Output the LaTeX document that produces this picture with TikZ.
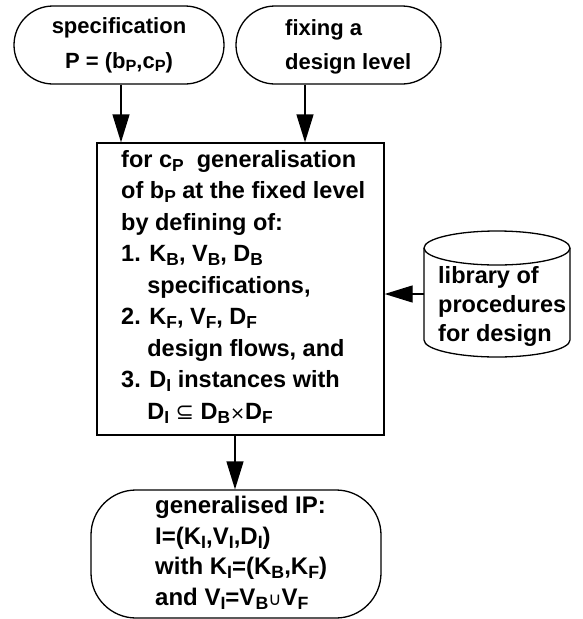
\documentclass[tikz,border=0pt]{standalone}
\usepackage{fontspec}
\usepackage{graphicx}
\setmainfont{Liberation Sans}
\newfontfamily\symfont{DejaVu Sans}
\usetikzlibrary{arrows.meta}
% lowered index letters and thin operator glyphs
\newcommand\dn[1]{\raisebox{-0.32ex}{\scalebox{0.74}{#1}}}
\newcommand\symb[2][18]{{\symfont\mdseries\fontsize{#1}{#1}\selectfont #2}}
\begin{document}
\begin{tikzpicture}[x=1pt,y=-1pt,
  line/.style={line width=1.3pt},
  arr/.style={line width=1.3pt, -{Triangle[length=28pt,width=17pt]}},
  pill/.style={draw, line width=1.3pt, rounded corners=39pt, minimum width=210pt,
    minimum height=78pt, inner sep=0pt, align=center,
    font=\bfseries\fontsize{22}{35}\selectfont},
  txt/.style={inner sep=0pt, align=left, anchor=north west,
    font=\bfseries\fontsize{23.5}{31.5}\selectfont}]
\useasboundingbox (0,0) rectangle (583,619);

% inputs
\node[pill] (spec) at (119,45) {specification\\P = (b\dn{P},c\dn{P})};
\node[pill, minimum width=205pt] (fix) at (338.5,45) {};
\node[txt, font=\bfseries\fontsize{22}{34}\selectfont] (fixtxt) at (285,19)
  {fixing a\\design level};

% generalisation step
\node[draw, line width=1.3pt, minimum width=287pt, minimum height=292pt,
  inner sep=0pt] (gen) at (240.5,289) {};
\node[txt] (gentxt) at (121,150) {%
  for c\dn{P}\ \ generalisation\\
  of b\dn{P} at the fixed level\\
  by defining of:\\
  1. K\dn{B}, V\dn{B}, D\dn{B}\\
  \hphantom{1.\ }specifications,\\
  2. K\dn{F}, V\dn{F}, D\dn{F}\\
  \hphantom{2.\ }design flows, and\\
  3. D\dn{I} instances with\\
  \hphantom{3.\ }D\dn{I} \symb[22]{⊆} D\dn{B}\symb[18]{×}D\dn{F}};

% procedure library (cylinder)
\node[minimum width=146pt, minimum height=126pt, inner sep=0pt] (lib) at (497,294) {};
\draw[line] (497,248) ellipse [x radius=73, y radius=17];
\draw[line] (424,248) -- (424,340) arc[start angle=180, end angle=0,
  x radius=73, y radius=17] -- (570,248);
\node[txt, font=\bfseries\fontsize{23.5}{29}\selectfont] (libtxt) at (438,266)
  {library of\\procedures\\for design};

% result
\node[draw, line width=1.3pt, rounded corners=45pt, minimum width=290pt,
  minimum height=128pt, inner sep=0pt] (ip) at (236,554) {};
\node[txt, font=\bfseries\fontsize{24}{30.5}\selectfont] (iptxt) at (155,496) {%
  generalised IP:\\
  I=(K\dn{I},V\dn{I},D\dn{I})\\
  with K\dn{I}=(K\dn{B},K\dn{F})\\
  and V\dn{I}=V\dn{B}\symb[18]{∪}V\dn{F}};

% connectors
\draw[arr] ([xshift=2pt]spec.south) -- ([xshift=2pt]spec.south |- gen.north);
\draw[arr] ([xshift=-33.5pt]fix.south) -- ([xshift=-33.5pt]fix.south |- gen.north);
\draw[arr] (lib.west) -- (gen.east |- lib.west);
\draw[arr] ([xshift=-5.5pt]gen.south) -- ([xshift=-5.5pt]gen.south |- ip.north);
\end{tikzpicture}
\end{document}
